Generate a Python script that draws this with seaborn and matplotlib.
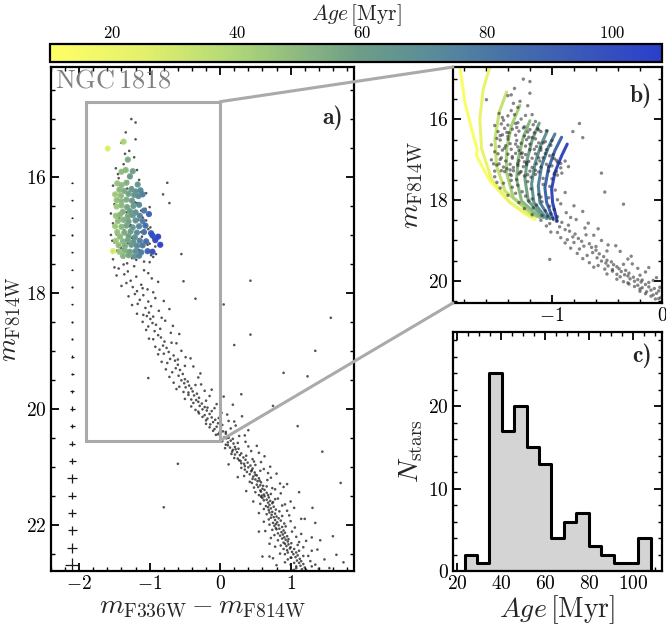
import numpy as np
import pandas as pd
import matplotlib
matplotlib.use("Agg")
import matplotlib.pyplot as plt
import seaborn as sns
from matplotlib.colors import LinearSegmentedColormap, Normalize
from matplotlib.patches import Rectangle, ConnectionPatch
from matplotlib.ticker import MultipleLocator
from matplotlib.cm import ScalarMappable

# ---------------- data ----------------
# colour-coded (dated) stars in panel a: colour, magnitude, age [Myr]
STAR_C = [-1.37, -1.595, -1.31,
          -1.40, -1.34, -1.24, -1.28,
          -1.46, -1.40, -1.33, -1.17,
          -1.43, -1.36, -1.26, -1.20, -1.13,
          -1.49, -1.41, -1.30, -1.22, -1.16, -1.10,
          -1.47, -1.40, -1.33, -1.25,
          -1.47, -1.40, -1.32, -1.23, -1.15,
          -1.38, -1.28, -1.20, -1.08,
          -1.48, -1.42, -1.31, -1.24, -1.14, -1.01,
          -1.45, -1.37, -1.30, -1.20, -1.10,
          -1.49, -1.40, -1.33, -1.24, -1.15, -1.06,
          -1.46, -1.36, -1.27, -1.18, -1.08, -0.98,
          -1.42, -1.30, -1.21, -0.96, -0.88,
          -1.48, -1.38, -1.31, -1.23, -1.14, -1.05, -0.92,
          -1.44, -1.35, -1.26, -1.18, -1.10, -0.85,
          -1.52, -1.43, -1.35, -1.28, -1.20, -1.12, -1.03, -0.96,
          -1.38, -1.30, -1.22, -1.15]
STAR_M = [15.39, 15.51, 15.70,
          15.91, 15.88, 15.90, 15.99,
          16.11, 16.14, 16.10, 16.13,
          16.22, 16.24, 16.21, 16.25, 16.23,
          16.30, 16.32, 16.29, 16.31, 16.33, 16.30,
          16.40, 16.42, 16.39, 16.41,
          16.51, 16.49, 16.52, 16.50, 16.48,
          16.60, 16.59, 16.61, 16.58,
          16.67, 16.65, 16.68, 16.66, 16.67, 16.64,
          16.76, 16.74, 16.77, 16.75, 16.76,
          16.85, 16.86, 16.84, 16.87, 16.85, 16.84,
          16.95, 16.96, 16.94, 16.96, 16.95, 16.97,
          17.03, 17.02, 17.04, 17.01, 17.03,
          17.10, 17.11, 17.09, 17.12, 17.10, 17.11, 17.09,
          17.18, 17.19, 17.17, 17.19, 17.18, 17.17,
          17.28, 17.29, 17.27, 17.29, 17.28, 17.30, 17.28, 17.29,
          17.36, 17.35, 17.37, 17.36]
STAR_AGE = [40, 25, 54,
            48, 50, 58, 62,
            46, 49, 52, 64,
            50, 54, 62, 67, 72,
            44, 48, 58, 64, 70, 76,
            46, 50, 54, 62,
            44, 49, 56, 62, 72,
            52, 60, 68, 80,
            46, 50, 56, 62, 74, 90,
            48, 52, 58, 67, 78,
            44, 50, 56, 64, 74, 86,
            46, 54, 60, 70, 82, 95,
            49, 58, 67, 100, 105,
            44, 50, 57, 64, 76, 86, 102,
            48, 54, 62, 72, 80, 107,
            28, 46, 52, 58, 68, 78, 90, 100,
            50, 56, 64, 74]

# undated stars (colour, magnitude)
UP_C = [-1.26, -1.34, -1.40, -1.29, -1.22, -1.37, -1.18, -1.44, -1.31, -1.25,
        -1.12, -1.39, -1.21, -1.50, -1.06, -1.33, -1.43, -1.16, -1.27, -0.99,
        -1.36, -1.47, -1.11, -1.23, -1.31, -1.03, -1.41, -1.15, -1.29, -0.91,
        -1.37, -1.19, -1.08, -1.32, -0.81, -0.55, -0.72, -1.53, -1.45, -0.95,
        -1.48, -1.15, -1.52, -1.05, -1.45, -1.00, -1.55, -1.10, -1.52, -1.02,
        -1.55, -0.95, -1.50, -0.92, -1.46, -0.98, -1.52, -1.00, -1.12, -1.12,
        -1.32, -1.00, -1.25, -1.28, -1.18, -1.35, -1.20, -1.38, -1.05, -1.25]
UP_M = [15.00, 15.23, 15.41, 15.55, 15.66, 15.78, 15.88, 16.02, 16.08, 16.18,
        16.26, 16.33, 16.44, 16.47, 16.55, 16.61, 16.71, 16.74, 16.83, 16.87,
        16.92, 16.99, 17.03, 17.07, 17.14, 17.17, 17.22, 17.26, 17.31, 17.33,
        17.39, 17.43, 17.46, 17.49, 16.30, 17.33, 16.45, 17.10, 15.95, 17.38,
        15.85, 16.05, 16.15, 16.28, 16.38, 16.52, 16.63, 16.70, 16.80, 16.90,
        17.00, 17.06, 17.13, 17.20, 17.27, 17.35, 17.42, 17.47, 16.95, 16.58,
        16.20, 17.15, 17.40, 16.85, 16.45, 15.60, 15.35, 17.25, 16.75, 17.05]

TO_C = [-1.37, -1.22, -1.44, -1.08, -1.31, -1.36, -1.19, -0.97, -1.27, -1.33,
        -1.12, -1.24, -1.03, -1.18,
        -1.21, -1.09, -0.92, -1.14, -1.02, -1.17, -0.98, -1.06, -0.87, -1.01,
        -1.09, -0.95, -0.99, -0.78,
        -0.96, -0.91, -1.02, -0.85, -0.93, -0.70, -0.88, -0.84, -0.95, -0.79,
        -0.62, -0.81, -0.76, -0.86,
        -0.73, -0.80, -0.66, -0.49, -0.71, -0.64, -0.75, -0.60, -0.38, -0.63,
        -0.57, -0.68, -0.53, -0.59, -0.31, -0.50,
        -1.50, -1.02, -1.47, -0.88, -1.40, -0.95, -1.30, -0.80, -1.25, -0.72,
        -1.18, -0.83, -1.10, -0.67, -1.05, -0.58, -1.01, -0.69, -0.92, -0.55,
        -0.88, -0.42, -0.83, -0.50, -0.77, -0.28, -0.72, -0.60, -1.04, -1.10]
TO_M = [17.51, 17.54, 17.58, 17.61, 17.63, 17.68, 17.72, 17.75, 17.79, 17.83,
        17.86, 17.90, 17.94, 17.97,
        18.02, 18.04, 18.09, 18.12, 18.15, 18.19, 18.23, 18.26, 18.31, 18.34,
        18.38, 18.41, 18.45, 18.48,
        18.52, 18.55, 18.58, 18.62, 18.66, 18.69, 18.73, 18.77, 18.80, 18.84,
        18.87, 18.91, 18.95, 18.98,
        19.02, 19.05, 19.08, 19.11, 19.14, 19.17, 19.21, 19.24, 19.27, 19.30,
        19.33, 19.37, 19.40, 19.43, 19.46, 19.49,
        17.56, 17.66, 17.70, 17.81, 17.88, 17.99, 18.06, 18.14, 18.21, 18.28,
        18.36, 18.43, 18.50, 18.57, 18.64, 18.71, 18.79, 18.86, 18.93, 19.00,
        19.06, 19.13, 19.19, 19.26, 19.32, 19.39, 19.45, 19.15, 18.40, 17.92]

MID_C = [-0.55, -0.46, -0.51, -0.27, -0.44, -0.58, -0.41, -0.12, -0.39, -0.45,
         -0.33, -0.37, 0.05, -0.30, -0.41, -0.20, -0.31, -0.26, 0.18, -0.29,
         -0.22, -0.08,
         -0.25, -0.19, -0.31, 0.02, -0.15, -0.22, 0.31, -0.12, -0.18, -0.07,
         0.12, -0.10, -0.03, -0.14, 0.22, -0.05, 0.01, -0.08, 0.40, 0.04,
         -0.01, 0.08, -0.06, 0.27, 0.06, 0.12,
         0.09, 0.03, 0.15, 0.36, 0.11, 0.19, 0.08, 0.52, 0.21, 0.14,
         0.26, 0.18, 0.44, 0.24, 0.30, 0.16, 0.28, 0.63, 0.33, 0.25,
         0.36, 0.29, 0.48, 0.39, 0.34, 0.12, 0.43, 0.71,
         -0.66, -0.35, -0.49, -0.62, -0.22, -0.52, -0.45, -0.15, -0.50, -0.34,
         -0.38, -0.05, -0.41, -0.18, -0.35, -0.12, -0.30, 0.10, -0.25, -0.02,
         -0.20, 0.20, -0.20, 0.03, -0.15, 0.15, -0.10, 0.08, -0.03, 0.35,
         0.01, 0.18, 0.03, 0.25, 0.11, 0.40, 0.07, 0.22, 0.17, 0.55,
         0.21, 0.37, 0.20, 0.46, 0.27, 0.58, 0.30, 0.50, 0.35, 0.30]
MID_M = [19.51, 19.53, 19.56, 19.58, 19.60, 19.62, 19.65, 19.67, 19.70, 19.72,
         19.74, 19.77, 19.79, 19.81, 19.84, 19.86, 19.88, 19.91, 19.93, 19.95,
         19.97, 19.99,
         20.01, 20.03, 20.05, 20.07, 20.09, 20.11, 20.13, 20.15, 20.17, 20.19,
         20.21, 20.23, 20.25, 20.27, 20.29, 20.31, 20.33, 20.35, 20.37, 20.39,
         20.41, 20.43, 20.45, 20.47, 20.49, 20.50,
         20.51, 20.53, 20.55, 20.57, 20.58, 20.60, 20.62, 20.64, 20.66, 20.67,
         20.69, 20.71, 20.73, 20.75, 20.77, 20.78, 20.80, 20.82, 20.84, 20.86,
         20.88, 20.90, 20.91, 20.93, 20.95, 20.96, 20.98, 21.00,
         19.55, 19.59, 19.63, 19.66, 19.69, 19.71, 19.76, 19.78, 19.83, 19.85,
         19.90, 19.92, 19.96, 19.98, 20.02, 20.04, 20.08, 20.10, 20.14, 20.16,
         20.20, 20.22, 20.26, 20.28, 20.32, 20.34, 20.38, 20.40, 20.44, 20.46,
         20.48, 20.52, 20.56, 20.59, 20.63, 20.65, 20.68, 20.70, 20.74, 20.76,
         20.79, 20.81, 20.85, 20.87, 20.89, 20.92, 20.94, 20.97, 20.99, 19.75]

LOW_C = [0.40, 0.46, 0.35, 0.57, 0.44, 0.49, 0.80, 0.42, 0.52, 0.47,
         0.25, 0.55, 0.50, 0.67, 0.53, 0.58, 0.45, 0.95, 0.57, 0.61,
         0.54, 0.74, 0.60, 0.63, 0.37, 0.58, 0.66, 0.86, 0.62, 0.68,
         0.59, 1.12,
         0.63, 0.69, 0.60, 0.78, 0.66, 0.71, 0.47, 0.68, 0.74, 0.92,
         0.70, 0.65, 0.76, 1.05, 0.72, 0.79, 0.69, 0.84, 0.74, 0.55,
         0.78, 0.73, 0.98, 0.80, 0.76, 0.83, 1.20, 0.78, 0.86, 0.62,
         0.81, 0.91, 0.79, 1.35,
         0.83, 0.77, 0.88, 1.06, 0.84, 0.80, 0.90, 0.64, 0.87, 0.92,
         1.15, 0.89, 0.85, 0.95, 0.91, 0.72, 0.97, 0.93, 1.22, 0.96,
         0.90, 1.01, 0.97, 1.10, 0.94, 0.78, 1.00, 1.42, 0.55, 0.70,
         0.99, 1.05, 0.95, 1.30, 1.02, 1.08, 0.85, 1.04, 1.10, 1.25,
         1.07, 1.01, 1.13, 1.48, 1.09, 1.15, 0.92, 1.12, 1.18, 1.35,
         1.14, 1.08, 1.20, 1.55, 1.16, 1.22, 1.02, 1.65, 0.80, 0.75,
         0.30, 0.62, 0.45, 0.38, 0.68, 0.50, 0.34, 0.72, 0.46, 0.56,
         0.42, 0.85, 0.52, 0.66, 0.48, 0.78, 0.57, 0.50, 0.72, 0.55,
         0.58, 0.82, 0.62, 0.75, 0.57, 0.88, 0.68, 0.62, 0.95, 0.70,
         0.66, 0.88, 0.72, 0.69, 1.00, 0.75,
         0.70, 0.93, 0.79, 0.74, 1.02, 0.82, 0.77, 1.08, 0.88, 0.82,
         1.12, 0.92, 0.86, 1.18,
         0.90, 1.12, 0.96, 0.92, 1.18, 1.00, 0.96, 1.28, 1.05, 1.00,
         1.30, 1.08, 1.05, 1.38, 1.30, 1.15, 1.00, 0.90, 0.70, 1.40]
LOW_M = [21.01, 21.03, 21.05, 21.07, 21.08, 21.10, 21.12, 21.13, 21.15, 21.17,
         21.18, 21.20, 21.22, 21.23, 21.25, 21.27, 21.28, 21.30, 21.32, 21.33,
         21.35, 21.37, 21.38, 21.40, 21.42, 21.43, 21.45, 21.46, 21.48, 21.49,
         21.50, 21.44,
         21.51, 21.53, 21.54, 21.56, 21.57, 21.59, 21.60, 21.62, 21.63, 21.65,
         21.66, 21.68, 21.69, 21.71, 21.72, 21.74, 21.75, 21.77, 21.78, 21.80,
         21.81, 21.83, 21.84, 21.86, 21.87, 21.89, 21.90, 21.92, 21.93, 21.95,
         21.96, 21.98, 21.99, 21.97,
         22.01, 22.02, 22.04, 22.05, 22.07, 22.08, 22.10, 22.11, 22.13, 22.14,
         22.16, 22.17, 22.19, 22.20, 22.22, 22.23, 22.25, 22.26, 22.28, 22.29,
         22.31, 22.32, 22.34, 22.35, 22.37, 22.38, 22.39, 22.27, 22.12, 22.33,
         22.41, 22.42, 22.44, 22.45, 22.47, 22.48, 22.50, 22.51, 22.53, 22.54,
         22.56, 22.57, 22.59, 22.60, 22.62, 22.63, 22.65, 22.66, 22.68, 22.69,
         22.71, 22.72, 22.74, 22.75, 22.77, 22.78, 22.79, 22.52, 22.70, 22.58,
         21.02, 21.04, 21.06, 21.09, 21.11, 21.14, 21.16, 21.19, 21.21, 21.24,
         21.26, 21.29, 21.31, 21.34, 21.36, 21.39, 21.41, 21.44, 21.47, 21.49,
         21.52, 21.55, 21.58, 21.61, 21.64, 21.67, 21.70, 21.73, 21.76, 21.79,
         21.82, 21.85, 21.88, 21.91, 21.94, 21.97,
         22.00, 22.03, 22.06, 22.09, 22.12, 22.15, 22.18, 22.21, 22.24, 22.27,
         22.30, 22.33, 22.36, 22.39,
         22.42, 22.45, 22.48, 22.51, 22.54, 22.57, 22.60, 22.63, 22.66, 22.69,
         22.72, 22.75, 22.78, 22.43, 22.22, 21.90, 21.60, 21.35, 22.55, 22.76]

FIELD_C = [0.43, 1.57, 0.43, 0.05, 0.90, 1.24, -1.02, 1.45, 1.71, 1.31,
           0.75, 1.10, -0.35, 1.60, 0.60, -0.80, 1.35, 0.20, -0.60, 1.75,
           -0.52, -0.75, -1.20]
FIELD_M = [17.79, 18.43, 18.72, 18.20, 19.38, 19.44, 19.47, 20.74, 21.28, 21.71,
           19.95, 20.30, 18.10, 22.20, 22.55, 21.70, 19.00, 18.90, 20.95, 22.65,
           17.80, 16.10, 15.06]

# photometric error bars
ERR_MAG = [16.1, 16.4, 16.7, 17.0, 17.3, 17.6, 17.9, 18.2, 18.5, 18.8, 19.1, 19.4,
           19.7, 20.0, 20.3, 20.6, 20.9, 21.2, 21.5, 21.8, 22.1, 22.4, 22.7]
ERR_COL = [0.010, 0.010, 0.010, 0.010, 0.010, 0.010, 0.015, 0.015, 0.015, 0.015,
           0.020, 0.020, 0.028, 0.035, 0.035, 0.042, 0.050, 0.070, 0.060, 0.060,
           0.065, 0.075, 0.100]
ERR_MAGERR = [0.010, 0.010, 0.010, 0.010, 0.010, 0.010, 0.015, 0.015, 0.015, 0.015,
              0.020, 0.020, 0.030, 0.040, 0.040, 0.045, 0.055, 0.080, 0.065, 0.065,
              0.070, 0.085, 0.120]

# isochrones (panel b)
ISO_AGE = [12, 22, 33, 42, 50, 58, 66, 76, 88, 102]
ISO_C = [
    [-1.836, -1.791, -1.730, -1.679, -1.685, -1.564, -1.412, -1.261, -1.155],
    [-1.564, -1.624, -1.655, -1.639, -1.548, -1.382, -1.185],
    [-1.412, -1.479, -1.518, -1.503, -1.427, -1.170],
    [-1.291, -1.367, -1.412, -1.412, -1.351, -1.139],
    [-1.200, -1.261, -1.306, -1.321, -1.276, -1.109],
    [-1.115, -1.176, -1.224, -1.245, -1.215, -1.079],
    [-1.042, -1.103, -1.155, -1.185, -1.164, -1.048],
    [-0.973, -1.033, -1.094, -1.124, -1.109, -1.018],
    [-0.912, -0.973, -1.033, -1.064, -1.048, -0.988],
    [-0.861, -0.912, -0.973, -1.003, -0.994, -0.952],
]
ISO_M = [
    [14.70, 15.57, 16.24, 16.75, 16.90, 17.52, 17.98, 18.31, 18.48],
    [14.70, 15.24, 15.99, 16.73, 17.48, 18.06, 18.41],
    [15.32, 15.82, 16.48, 17.15, 17.77, 18.38],
    [15.65, 16.15, 16.73, 17.31, 17.94, 18.41],
    [16.03, 16.44, 16.98, 17.48, 18.02, 18.43],
    [16.09, 16.48, 16.98, 17.48, 18.02, 18.43],
    [16.28, 16.65, 17.11, 17.60, 18.06, 18.46],
    [16.36, 16.69, 17.15, 17.65, 18.06, 18.46],
    [16.44, 16.77, 17.23, 17.69, 18.06, 18.48],
    [16.61, 16.90, 17.31, 17.73, 18.06, 18.52],
]

# age histogram (panel c)
HIST_COUNTS = [2, 1, 24, 17, 20, 15, 13, 4, 6, 7, 3, 2, 1, 1, 4]
HIST_START, HIST_WIDTH = 23.3, 5.64

# ---------------- style ----------------
sns.set_theme(style="ticks")
plt.rcParams.update({
    "font.family": "serif",
    "font.serif": ["cmr10", "DejaVu Serif"],
    "mathtext.fontset": "cm",
    "axes.formatter.use_mathtext": True,
    "axes.linewidth": 1.6,
    "axes.edgecolor": "black",
    "xtick.color": "black", "ytick.color": "black",
    "xtick.direction": "in", "ytick.direction": "in",
    "xtick.top": True, "ytick.right": True,
    "xtick.major.size": 6, "ytick.major.size": 6,
    "xtick.minor.size": 3, "ytick.minor.size": 3,
    "xtick.major.width": 1.3, "ytick.major.width": 1.3,
    "xtick.minor.width": 1.0, "ytick.minor.width": 1.0,
    "xtick.minor.visible": True, "ytick.minor.visible": True,
    "xtick.labelsize": 14, "ytick.labelsize": 14,
    "xtick.major.pad": 3, "ytick.major.pad": 3,
})

cmap = LinearSegmentedColormap.from_list("age", [
    (0.00, "#ffff66"), (0.15, "#e4f06c"), (0.30, "#b0d878"),
    (0.50, "#6e9e88"), (0.62, "#5a8d99"), (0.75, "#4670a8"),
    (0.90, "#3652bd"), (1.00, "#2a3fcc")])
norm = Normalize(10, 108)

stars = pd.DataFrame({"c": STAR_C, "m": STAR_M, "age": STAR_AGE})
bg = pd.DataFrame({"c": UP_C + TO_C + MID_C + LOW_C + FIELD_C,
                   "m": UP_M + TO_M + MID_M + LOW_M + FIELD_M})
allstars = pd.concat([bg, stars[["c", "m"]]], ignore_index=True)
iso = pd.DataFrame({
    "c": [v for seg in ISO_C for v in seg],
    "m": [v for seg in ISO_M for v in seg],
    "age": [a for a, seg in zip(ISO_AGE, ISO_C) for _ in seg],
})
edges = [HIST_START + HIST_WIDTH * i for i in range(len(HIST_COUNTS) + 1)]
hist = pd.DataFrame({"age": [e + HIST_WIDTH / 2 for e in edges[:-1]],
                     "n": HIST_COUNTS})

fig = plt.figure(figsize=(6.66, 6.27), dpi=100)

# ---------------- panel a ----------------
ax_a = fig.add_axes([0.0766, 0.0893, 0.455, 0.804])
sns.scatterplot(data=allstars, x="c", y="m", ax=ax_a, s=3.5, color="k",
                alpha=0.75, edgecolor="none", linewidth=0)
ax_a.errorbar([-2.1] * len(ERR_MAG), ERR_MAG, xerr=ERR_COL, yerr=ERR_MAGERR,
              fmt="none", ecolor="k", elinewidth=0.9)
sns.scatterplot(data=stars, x="c", y="m", hue="age", palette=cmap, hue_norm=norm,
                s=20, edgecolor="none", linewidth=0, alpha=0.95, legend=False,
                ax=ax_a, zorder=3)
ax_a.add_patch(Rectangle((-1.9, 14.7), 1.9, 5.85, fill=False,
                         edgecolor="#aaaaaa", lw=2.2, zorder=4))
ax_a.set_xlim(-2.4, 1.9)
ax_a.set_ylim(22.8, 14.1)
ax_a.xaxis.set_major_locator(MultipleLocator(1))
ax_a.xaxis.set_minor_locator(MultipleLocator(0.2))
ax_a.yaxis.set_major_locator(MultipleLocator(2))
ax_a.yaxis.set_minor_locator(MultipleLocator(0.5))
ax_a.set_xlabel(r"$m_{\rm F336W}-m_{\rm F814W}$", fontsize=20, labelpad=0)
ax_a.set_ylabel(r"$m_{\rm F814W}$", fontsize=19.5)
ax_a.yaxis.set_label_coords(-0.095, 0.5)
ax_a.text(0.013, 0.997, r"${\rm NGC\,1818}$", transform=ax_a.transAxes,
          fontsize=19, color="#808080", ha="left", va="top")
ax_a.text(0.965, 0.90, "a)", family="cmb10", transform=ax_a.transAxes,
          fontsize=17, ha="right", va="center")

# ---------------- panel b ----------------
ax_b = fig.add_axes([0.680, 0.5167, 0.314, 0.3764])
sns.lineplot(data=iso, x="c", y="m", hue="age", palette=cmap, hue_norm=norm,
             sort=False, estimator=None, legend=False, lw=2.2, ax=ax_b)
sns.scatterplot(data=allstars, x="c", y="m", ax=ax_b, s=6, color="#222222",
                alpha=0.55, edgecolor="none", linewidth=0, zorder=3)
ax_b.set_xlim(-1.9, 0.0)
ax_b.set_ylim(20.55, 14.7)
ax_b.xaxis.set_major_locator(MultipleLocator(1))
ax_b.xaxis.set_minor_locator(MultipleLocator(0.2))
ax_b.yaxis.set_major_locator(MultipleLocator(2))
ax_b.yaxis.set_minor_locator(MultipleLocator(0.5))
ax_b.set_xlabel("")
ax_b.set_ylabel(r"$m_{\rm F814W}$", fontsize=20, labelpad=2)
ax_b.text(0.95, 0.88, "b)", family="cmb10", transform=ax_b.transAxes,
          fontsize=17, ha="right", va="center")

# ---------------- panel c ----------------
ax_c = fig.add_axes([0.680, 0.0893, 0.314, 0.381])
sns.histplot(data=hist, x="age", weights="n", bins=edges, element="step",
             fill=True, color="#d4d4d4", edgecolor="black", linewidth=2.2,
             alpha=1, ax=ax_c)
ax_c.set_xlim(18, 113)
ax_c.set_ylim(0, 29)
ax_c.xaxis.set_major_locator(MultipleLocator(20))
ax_c.xaxis.set_minor_locator(MultipleLocator(5))
ax_c.yaxis.set_major_locator(MultipleLocator(10))
ax_c.yaxis.set_minor_locator(MultipleLocator(2))
ax_c.set_xlabel(r"$Age\,[{\rm Myr}]$", fontsize=20, labelpad=0)
ax_c.set_ylabel(r"$N_{\rm stars}$", fontsize=20, labelpad=2)
ax_c.text(0.95, 0.90, "c)", family="cmb10", transform=ax_c.transAxes,
          fontsize=17, ha="right", va="center")

# ---------------- connectors ----------------
for ya, yb in [(14.7, 1.0), (20.55, 0.0)]:
    con = ConnectionPatch(xyA=(0.0, ya), coordsA=ax_a.transData,
                          xyB=(0.0, yb), coordsB=ax_b.transAxes,
                          color="#aaaaaa", lw=2.2, zorder=5)
    fig.add_artist(con)

# ---------------- colorbar ----------------
cax = fig.add_axes([0.075, 0.901, 0.919, 0.0287])
cb = fig.colorbar(ScalarMappable(norm=norm, cmap=cmap), cax=cax,
                  orientation="horizontal")
cb.outline.set_linewidth(1.6)
cax.xaxis.set_ticks_position("top")
cax.xaxis.set_label_position("top")
cb.set_ticks([20, 40, 60, 80, 100])
cax.minorticks_off()
cax.tick_params(axis="x", direction="in", length=3, labelsize=12, pad=2)
cb.set_label(r"$Age\,[{\rm Myr}]$", fontsize=15.5, labelpad=4)

fig.savefig("out.png", dpi=100)
